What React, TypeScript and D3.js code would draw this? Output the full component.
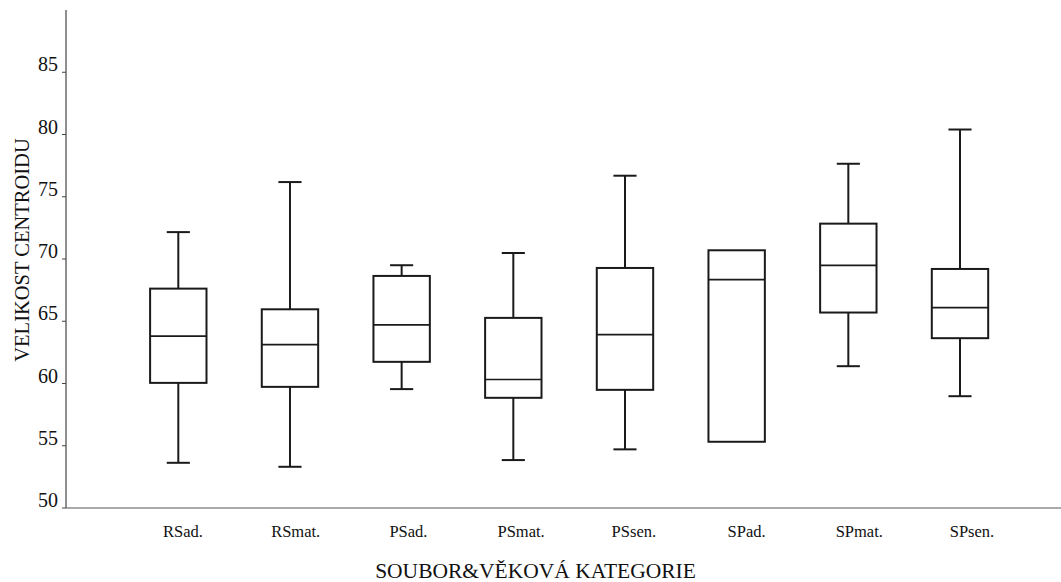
import React, { useEffect, useRef } from "react";
import * as d3 from "d3";

// category labels and box statistics
const categories = ["RSad.", "RSmat.", "PSad.", "PSmat.", "PSsen.", "SPad.", "SPmat.", "SPsen."];
const whiskerLow = [53.63, 53.31, 59.55, 53.85, 54.71, 55.32, 61.39, 58.98];
const quartile1 = [60.05, 59.73, 61.74, 58.85, 59.49, 55.32, 65.7, 63.64];
const medians = [63.8, 63.13, 64.71, 60.32, 63.93, 68.35, 69.49, 66.1];
const quartile3 = [67.62, 65.96, 68.64, 65.27, 69.28, 70.7, 72.84, 69.2];
const whiskerHigh = [72.16, 76.18, 69.5, 70.48, 76.69, 70.7, 77.65, 80.4];
const yTicks = [50, 55, 60, 65, 70, 75, 80, 85];

const yTitle = "VELIKOST CENTROIDU";
const xTitle = "SOUBOR&VĚKOVÁ KATEGORIE";

const W = 1061, H = 582;
const FONT = "'Liberation Serif', 'DejaVu Serif', serif";

const App = () => {
  const ref = useRef<SVGSVGElement>(null);

  useEffect(() => {
    const svg = d3.select(ref.current);
    svg.selectAll("*").remove();

    const axisX = 66, axisBottom = 508, axisTop = 10;
    const y = d3.scaleLinear().domain([50, 90]).range([axisBottom, axisTop]);
    const x = d3.scalePoint<string>().domain(categories).range([178.3, 960]);
    const xLab = d3.scalePoint<string>().domain(categories).range([183, 972]);
    const step = x.step();
    const boxW = step * 0.505;
    const capW = boxW * 0.41;

    // axes
    svg.append("line")
      .attr("x1", axisX).attr("x2", axisX)
      .attr("y1", axisTop).attr("y2", axisBottom)
      .attr("stroke", "#444").attr("stroke-width", 1.2);
    svg.append("line")
      .attr("x1", axisX).attr("x2", W)
      .attr("y1", axisBottom).attr("y2", axisBottom)
      .attr("stroke", "#555").attr("stroke-width", 1.2);

    const tick = svg.selectAll(".ytick").data(yTicks).enter().append("g").attr("class", "ytick");
    tick.append("line")
      .attr("x1", axisX - 4).attr("x2", axisX)
      .attr("y1", d => y(d)).attr("y2", d => y(d))
      .attr("stroke", "#444").attr("stroke-width", 1);
    tick.append("text")
      .attr("x", axisX - 8).attr("y", d => y(d) - 1)
      .attr("text-anchor", "end")
      .style("font-family", FONT).style("font-size", "20px")
      .attr("fill", "#111")
      .text(d => d);

    svg.append("text")
      .attr("transform", "translate(29,250) rotate(-90)")
      .attr("text-anchor", "middle")
      .style("font-family", FONT).style("font-size", "20.5px")
      .attr("fill", "#111")
      .text(yTitle);

    svg.selectAll(".xlab").data(categories).enter().append("text")
      .attr("class", "xlab")
      .attr("x", d => xLab(d) as number).attr("y", 537)
      .attr("text-anchor", "middle")
      .style("font-family", FONT).style("font-size", "16.5px")
      .attr("fill", "#111")
      .text(d => d);

    svg.append("text")
      .attr("x", 535.5).attr("y", 578)
      .attr("text-anchor", "middle")
      .style("font-family", FONT).style("font-size", "21.5px")
      .attr("fill", "#111")
      .text(xTitle);

    // boxes
    const box = svg.selectAll(".box").data(categories).enter().append("g").attr("class", "box");
    const cx = (d: string) => x(d) as number;
    box.each(function (d, i) {
      const g = d3.select(this);
      const c = cx(d);
      const stroke = "#1a1a1a";
      if (whiskerHigh[i] > quartile3[i]) {
        g.append("line").attr("x1", c).attr("x2", c)
          .attr("y1", y(whiskerHigh[i])).attr("y2", y(quartile3[i]))
          .attr("stroke", stroke).attr("stroke-width", 2);
        g.append("line").attr("x1", c - capW / 2).attr("x2", c + capW / 2)
          .attr("y1", y(whiskerHigh[i])).attr("y2", y(whiskerHigh[i]))
          .attr("stroke", stroke).attr("stroke-width", 2);
      }
      if (whiskerLow[i] < quartile1[i]) {
        g.append("line").attr("x1", c).attr("x2", c)
          .attr("y1", y(quartile1[i])).attr("y2", y(whiskerLow[i]))
          .attr("stroke", stroke).attr("stroke-width", 2);
        g.append("line").attr("x1", c - capW / 2).attr("x2", c + capW / 2)
          .attr("y1", y(whiskerLow[i])).attr("y2", y(whiskerLow[i]))
          .attr("stroke", stroke).attr("stroke-width", 2);
      }
      g.append("rect")
        .attr("x", c - boxW / 2).attr("width", boxW)
        .attr("y", y(quartile3[i])).attr("height", y(quartile1[i]) - y(quartile3[i]))
        .attr("fill", "none").attr("stroke", stroke).attr("stroke-width", 2);
      g.append("line").attr("x1", c - boxW / 2).attr("x2", c + boxW / 2)
        .attr("y1", y(medians[i])).attr("y2", y(medians[i]))
        .attr("stroke", stroke).attr("stroke-width", 1.7);
    });
  }, []);

  return (
    <div style={{ position: "absolute", left: 0, top: 0, background: "#fff" }}>
      <svg ref={ref} width={W} height={H} style={{ display: "block" }}></svg>
    </div>
  );
};

export default App;
